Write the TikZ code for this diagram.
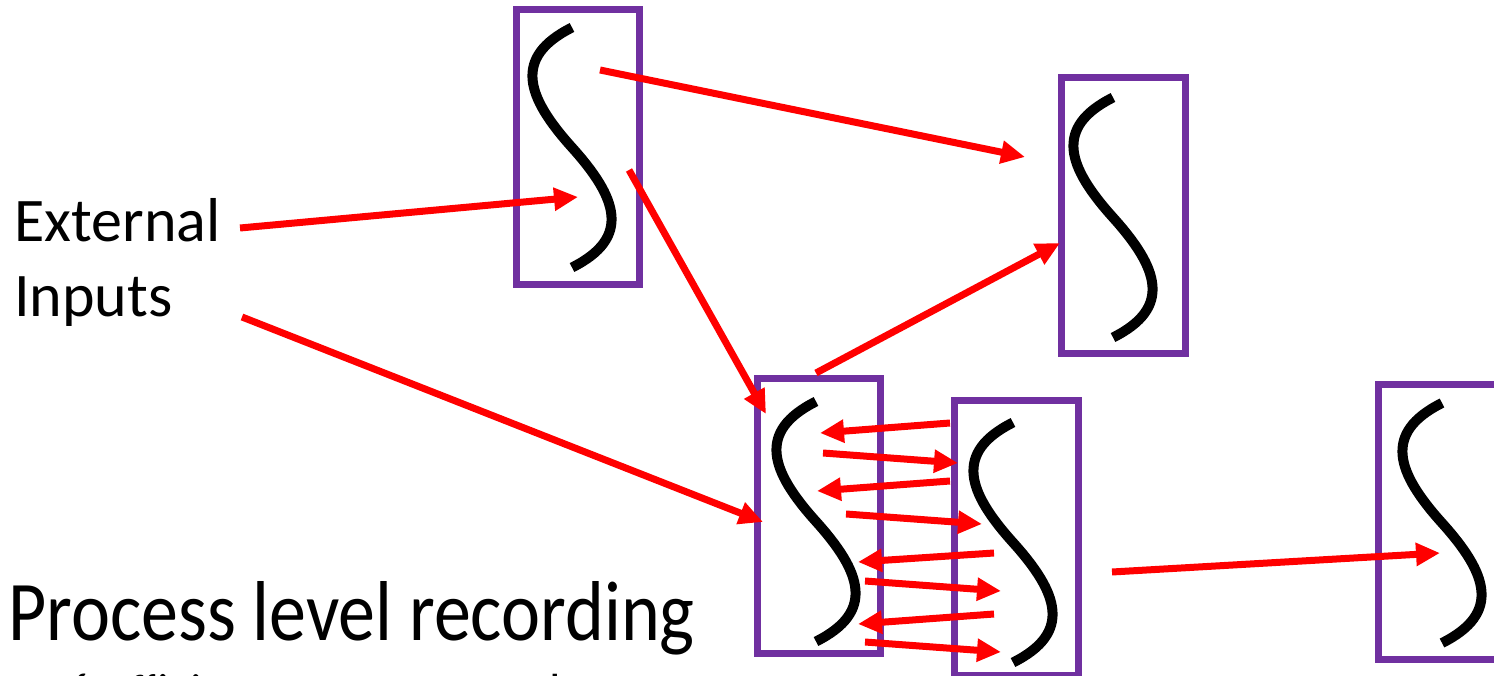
\documentclass[tikz,border=0pt]{standalone}
\usepackage{fontspec}
\setmainfont{Carlito}
\newfontfamily\narrowfont[FakeStretch=0.87]{Carlito}
\newfontfamily\symfont{DejaVu Sans}
\usetikzlibrary{arrows.meta}
\definecolor{boxpurple}{RGB}{112,48,160}
\definecolor{arrowred}{RGB}{255,0,0}

\begin{document}
\begin{tikzpicture}[x=1pt,y=-1pt,
  procbox/.style={draw=boxpurple, line width=7pt, inner sep=0pt,
                  minimum width=123pt, minimum height=275pt},
  sline/.style={line width=10pt, black},
  flow/.style={draw=arrowred, line width=7pt,
               -{Triangle[length=24pt,width=22pt]}},
  txt/.style={inner sep=0pt, anchor=base west},
  scurve/.pic={\draw[sline] (0,-120) .. controls (-60,-90) and (-45,-50) .. (0,0)
                            .. controls (45,50) and (60,90) .. (0,120);}]
\useasboundingbox (0,0) rectangle (1494,676);
\clip (0,0) rectangle (1494,676);

% process boxes
\node[procbox] (boxA) at (577.5,147.5) {};
\node[procbox, minimum width=124pt] (boxB) at (1123,215.5) {};
\node[procbox] (boxC) at (818.5,515.5) {};
\node[procbox, minimum width=124pt] (boxD) at (1016,537.5) {};
\node[procbox] (boxE) at (1439.5,522) {};

% S-shaped process traces
\pic at (572,147.5) {scurve};
\pic at (1113,217.5) {scurve};
\pic at (816,521.5) {scurve};
\pic at (1013,542.5) {scurve};
\pic at (1442,523) {scurve};

% labels
\node[txt, font=\fontsize{62}{74}\selectfont] (ext) at (14,242) {External};
\node[txt, font=\fontsize{62}{74}\selectfont] (inp) at (14,317) {Inputs};
\node[txt, font=\narrowfont\fontsize{85}{100}\selectfont] (proc) at (8,640) {Process level recording};
\node[txt, font=\narrowfont\fontsize{58}{70}\selectfont] (sub) at (52,714)
  {\raisebox{9pt}{\symfont\fontsize{50}{60}\selectfont ✓} Efficient, accurate replay};

% arrow end points
\coordinate (e1s) at (240,228);  \coordinate (e1e) at (578,197);
\coordinate (e2s) at (242,317);  \coordinate (e2e) at (763,522);
\coordinate (ab1) at (600,70);   \coordinate (ab2) at (1025,157);
\coordinate (ac1) at (629,170);  \coordinate (ac2) at (766,414);
\coordinate (cb1) at (816,373);  \coordinate (cb2) at (1060,243);
\coordinate (de1) at (1112,572); \coordinate (de2) at (1440,553);

\coordinate (m1s) at (950,423);  \coordinate (m1e) at (820,433);
\coordinate (m2s) at (823,453);  \coordinate (m2e) at (958,463);
\coordinate (m3s) at (950,481);  \coordinate (m3e) at (817,491);
\coordinate (m4s) at (846,514);  \coordinate (m4e) at (982,524);
\coordinate (m5s) at (994,553);  \coordinate (m5e) at (858,562);
\coordinate (m6s) at (865,581);  \coordinate (m6e) at (1001,591);
\coordinate (m7s) at (994,614);  \coordinate (m7e) at (858,624);
\coordinate (m8s) at (865,642);  \coordinate (m8e) at (1001,652);

% message flows
\draw[flow] (e1s) -- (e1e);
\draw[flow] (e2s) -- (e2e);
\draw[flow] (ab1) -- (ab2);
\draw[flow] (ac1) -- (ac2);
\draw[flow] (cb1) -- (cb2);
\draw[flow] (de1) -- (de2);
\foreach \i in {1,...,8} {\draw[flow] (m\i s) -- (m\i e);}
\end{tikzpicture}
\end{document}
